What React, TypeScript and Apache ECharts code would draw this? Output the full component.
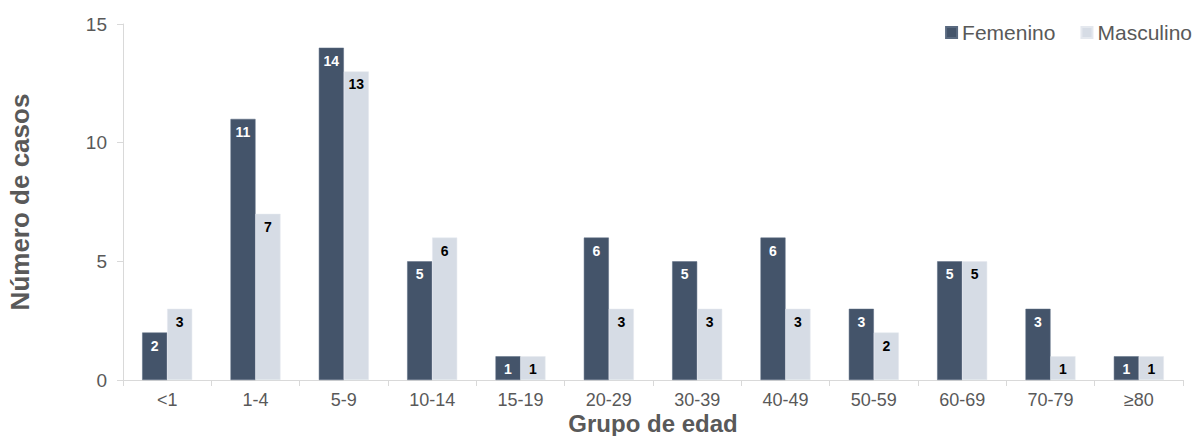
import React, { useEffect, useRef } from "react";
import * as echarts from "echarts";

const categories = ["<1", "1-4", "5-9", "10-14", "15-19", "20-29", "30-39", "40-49", "50-59", "60-69", "70-79", "≥80"];
const femenino = [2, 11, 14, 5, 1, 6, 5, 6, 3, 5, 3, 1];
const masculino = [3, 7, 13, 6, 1, 3, 3, 3, 2, 5, 1, 1];
const yTicks = [0, 5, 10, 15];

const FONT = "Liberation Sans, Arial, sans-serif";

export default function App() {
  const ref = useRef<HTMLDivElement>(null);
  useEffect(() => {
    if (!ref.current) return;
    const chart = echarts.init(ref.current, undefined, { renderer: "svg" });
    chart.setOption({
      animation: false,
      backgroundColor: "#ffffff",
      textStyle: { fontFamily: FONT },
      grid: { left: 123, right: 16, top: 24, bottom: 56, containLabel: false, outerBoundsMode: "none" },
      legend: {
        right: 2,
        top: 17,
        itemWidth: 11,
        itemHeight: 11,
        itemGap: 25,
        icon: "rect",
        textStyle: { fontSize: 21, color: "#595959", fontFamily: FONT },
        data: ["Femenino", "Masculino"],
      },
      xAxis: {
        type: "category",
        data: categories,
        name: "Grupo de edad",
        nameLocation: "middle",
        nameGap: 32,
        nameMoveOverlap: false,
        nameTextStyle: { fontSize: 24, lineHeight: 22, fontWeight: "bold", color: "#595959", fontFamily: FONT },
        axisLine: { lineStyle: { color: "#d9d9d9" } },
        axisTick: { show: true, length: 6, lineStyle: { color: "#d9d9d9" } },
        axisLabel: { fontSize: 18, lineHeight: 18, color: "#595959", margin: 11, fontFamily: FONT },
      },
      yAxis: {
        type: "value",
        min: 0,
        max: 15,
        interval: 5,
        name: "Número de casos",
        nameLocation: "middle",
        nameGap: 90,
        nameTextStyle: { fontSize: 26, fontWeight: "bold", color: "#595959", fontFamily: FONT },
        axisLine: { show: true, lineStyle: { color: "#d9d9d9" } },
        axisTick: { show: true, length: 6, lineStyle: { color: "#d9d9d9" } },
        axisLabel: {
          fontSize: 19,
          color: "#595959",
          margin: 16,
          fontFamily: FONT,
          formatter: (v: number) => (yTicks.includes(v) ? String(v) : ""),
        },
        splitLine: { show: false },
      },
      series: [
        {
          name: "Femenino",
          type: "bar",
          data: femenino,
          barWidth: 25,
          barGap: "0%",
          itemStyle: { color: "#44546a", borderColor: "#5a6a80", borderWidth: 0.5 },
          label: {
            show: true,
            position: "insideTop",
            distance: 6,
            color: "#ffffff",
            fontWeight: "bold",
            fontSize: 14,
            fontFamily: FONT,
          },
        },
        {
          name: "Masculino",
          type: "bar",
          data: masculino,
          barWidth: 25,
          itemStyle: { color: "#d6dce5", borderColor: "#e4e8ee", borderWidth: 0.5 },
          label: {
            show: true,
            position: "insideTop",
            distance: 6,
            color: "#000000",
            fontWeight: "bold",
            fontSize: 14,
            fontFamily: FONT,
          },
        },
      ],
    });
    return () => chart.dispose();
  }, []);
  return <div ref={ref} style={{ width: 1199, height: 436, position: "absolute", left: 0, top: 0 }} />;
}
